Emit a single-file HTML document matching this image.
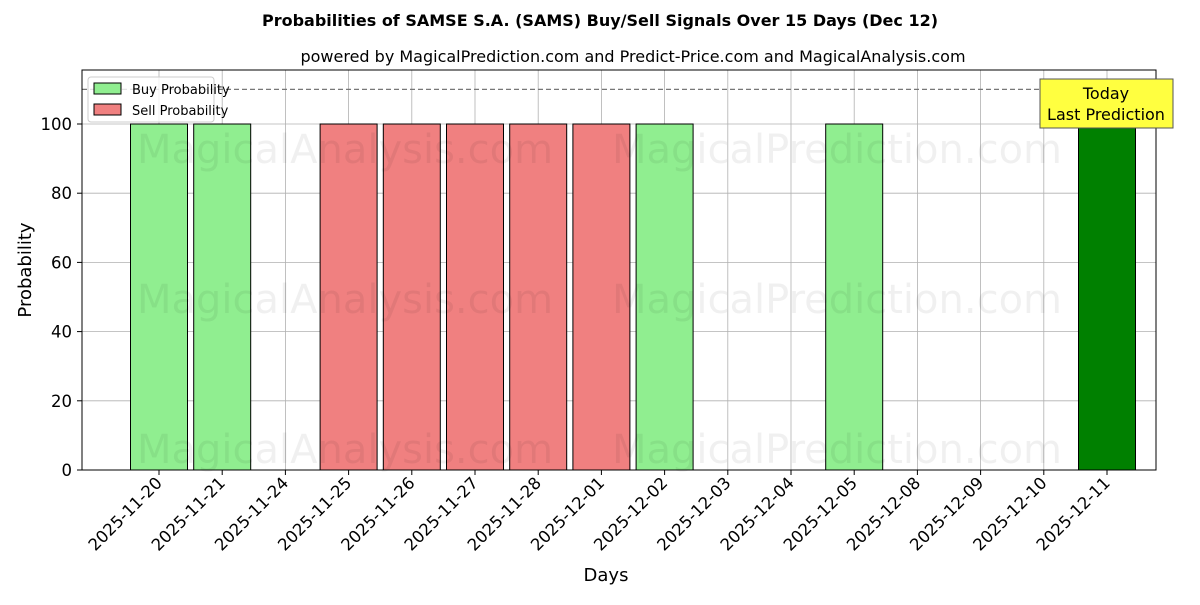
<!DOCTYPE html>
<html><head><meta charset="utf-8"><style>
body{margin:0;background:#fff;font-family:"Liberation Sans","DejaVu Sans",sans-serif}
svg text{font-family:"DejaVu Sans","Liberation Sans",sans-serif}
</style></head><body>
<svg id="chart" width="1200" height="600">
<text x="600" y="26" text-anchor="middle" font-size="16" font-weight="bold">Probabilities of SAMSE S.A. (SAMS) Buy/Sell Signals Over 15 Days (Dec 12)</text>
<text x="633" y="62" text-anchor="middle" font-size="16">powered by MagicalPrediction.com and Predict-Price.com and MagicalAnalysis.com</text>
<g id="grid"></g>
<g id="bars"></g>
<g id="wm" fill="#000" fill-opacity="0.06" font-size="40">
<text x="345" y="163" text-anchor="middle">MagicalAnalysis.com</text>
<text x="837" y="163" text-anchor="middle">MagicalPrediction.com</text>
<text x="345" y="313" text-anchor="middle">MagicalAnalysis.com</text>
<text x="837" y="313" text-anchor="middle">MagicalPrediction.com</text>
<text x="345" y="463" text-anchor="middle">MagicalAnalysis.com</text>
<text x="837" y="463" text-anchor="middle">MagicalPrediction.com</text>
</g>
<g id="axes"></g>
<rect x="82" y="70" width="1074" height="400" fill="none" stroke="#000" stroke-width="1"/>
<g>
<rect x="88" y="77" width="126" height="45" fill="#fff" fill-opacity="0.8" stroke="#ccc" rx="3"/>
<rect x="94" y="83" width="27" height="11" fill="#90ee90" stroke="#000"/>
<text x="132" y="94" font-size="13">Buy Probability</text>
<rect x="94" y="104" width="27" height="11" fill="#f08080" stroke="#000"/>
<text x="132" y="115" font-size="13">Sell Probability</text>
</g>
<g>
<rect x="1040" y="79" width="133" height="49" fill="#ffff40" stroke="#555"/>
<text x="1106" y="99" text-anchor="middle" font-size="16">Today</text>
<text x="1106" y="120" text-anchor="middle" font-size="16">Last Prediction</text>
</g>
<text x="606" y="581" text-anchor="middle" font-size="18">Days</text>
<text transform="translate(31,270) rotate(-90)" text-anchor="middle" font-size="18">Probability</text>
</svg>
<script>
const days=["2025-11-20","2025-11-21","2025-11-24","2025-11-25","2025-11-26","2025-11-27","2025-11-28","2025-12-01","2025-12-02","2025-12-03","2025-12-04","2025-12-05","2025-12-08","2025-12-09","2025-12-10","2025-12-11"];
const buyValues=[100,100,0,0,0,0,0,0,100,0,0,100,0,0,0,100];
const sellValues=[0,0,0,100,100,100,100,100,0,0,0,0,0,0,0,0];
const yTicks=[0,20,40,60,80,100];
const thresholdValue=110;
const NS="http://www.w3.org/2000/svg";
const x=i=>159+i*63.2;
const y=v=>470-v*3.46;
const bw=57;
function mk(t,a,p){const e=document.createElementNS(NS,t);for(const k in a)e.setAttribute(k,a[k]);p.appendChild(e);return e;}
const grid=document.getElementById('grid'),bars=document.getElementById('bars'),axes=document.getElementById('axes');
yTicks.forEach(v=>{
 const l=mk('line',{x1:82,x2:1156,y1:y(v),y2:y(v),stroke:'#b0b0b0','stroke-width':0.8},grid);
 
 
 mk('line',{x1:77,x2:82,y1:y(v),y2:y(v),stroke:'#000'},axes);
 const t=mk('text',{x:72,y:y(v)+6,'text-anchor':'end','font-size':16.5},axes);t.textContent=v;
 
 
});
days.forEach((d,i)=>{
 const l=mk('line',{x1:x(i),x2:x(i),y1:70,y2:470,stroke:'#b0b0b0','stroke-width':0.8},grid);
 
 
 mk('line',{x1:x(i),x2:x(i),y1:470,y2:475,stroke:'#000'},axes);
 const t=mk('text',{x:x(i)+4,y:484,'text-anchor':'end','font-size':16.5,transform:`rotate(-45 ${x(i)+4} 484)`},axes);t.textContent=d;
 
 
});
const th=mk('line',{x1:82,x2:1156,y1:y(thresholdValue),y2:y(thresholdValue),stroke:'#777','stroke-dasharray':'5,3','stroke-width':1.2},grid);


days.forEach((d,i)=>{
 const last=i===days.length-1;
 if(buyValues[i]>0){const r=mk('rect',{x:x(i)-bw/2,y:y(buyValues[i]),width:bw,height:y(0)-y(buyValues[i]),fill:last?'#008000':'#90ee90',stroke:'#000'},bars);
  
  }
 if(sellValues[i]>0){const r=mk('rect',{x:x(i)-bw/2,y:y(sellValues[i]),width:bw,height:y(0)-y(sellValues[i]),fill:'#f08080',stroke:'#000'},bars);
  
  }
});
</script>
</body></html>
